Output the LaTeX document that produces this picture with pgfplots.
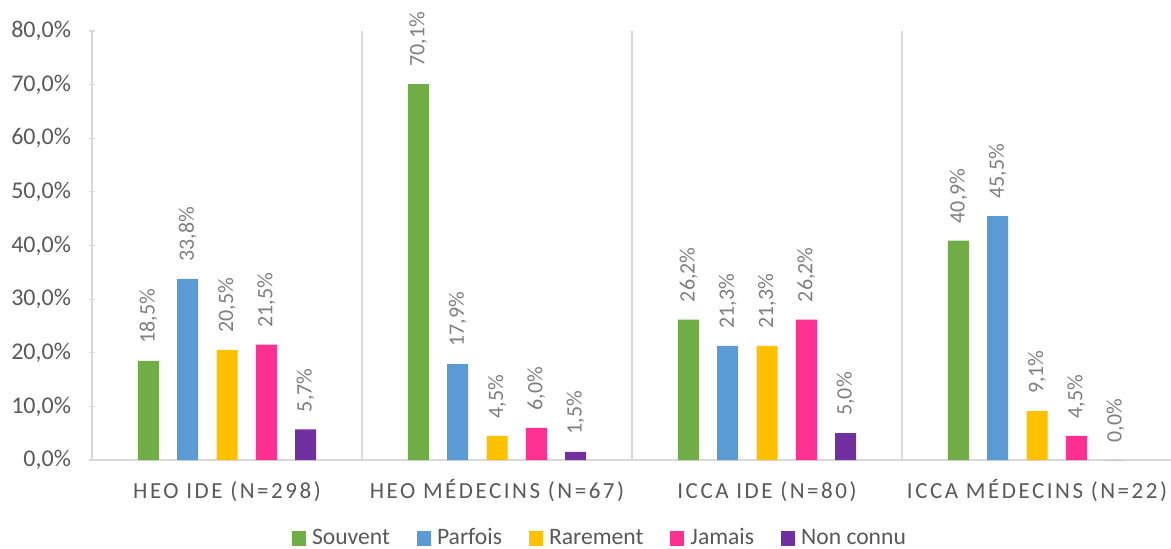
\documentclass[border=0pt]{standalone}
\usepackage{fontspec}
\setmainfont{Carlito}
\newfontfamily\spaced[LetterSpace=11]{Carlito}
\usepackage{pgfplots}
\pgfplotsset{compat=1.18}
\definecolor{cgreen}{HTML}{70AD47}
\definecolor{cblue}{HTML}{5B9BD5}
\definecolor{cyellow}{HTML}{FFC000}
\definecolor{cpink}{HTML}{FF3092}
\definecolor{cpurple}{HTML}{7030A0}
\definecolor{sepgray}{HTML}{D9D9D9}
\definecolor{tickgray}{HTML}{595959}
\definecolor{labgray}{HTML}{7F7F7F}
\begin{document}
\begin{tikzpicture}
\begin{axis}[
  at={(0,0)}, anchor=south west,
  scale only axis, width=540pt, height=214.5pt,
  ybar, bar width=10.5pt,
  xmin=-0.5, xmax=3.5, ymin=0, ymax=80,
  ytick={0,10,...,80},
  yticklabel={\pgfmathprintnumber[fixed,fixed zerofill,precision=1,use comma]{\tick}\%},
  /pgf/number format/assume math mode=true,
  yticklabel style={font=\fontsize{12}{14}\selectfont, color=tickgray, xshift=-5.5pt},
  ytick style={draw=sepgray, line width=0.6pt},
  tick align=outside, major tick length=3pt,
  xtick={0,1,2,3},
  xticklabels={HEO IDE (N=298), HEO MÉDECINS (N=67), ICCA IDE (N=80), ICCA MÉDECINS (N=22)},
  xticklabel style={font=\spaced\fontsize{11.5}{13}\selectfont, color=tickgray, anchor=center, text height=8pt, text depth=2pt, yshift=-14.5pt},
  xtick style={draw=none},
  extra x ticks={0.5,1.5,2.5},
  extra x tick labels={},
  extra x tick style={grid=major, major grid style={draw=sepgray, line width=0.6pt}, tick style={draw=none}},
  axis x line=bottom, axis y line=left,
  axis line style={-, draw=sepgray, line width=0.6pt},
  nodes near coords={\pgfmathprintnumber[fixed,fixed zerofill,precision=1,use comma]{\pgfplotspointmeta}\%},
  nodes near coords style={font=\fontsize{11}{13}\selectfont, color=labgray, rotate=90, anchor=west, inner xsep=8.5pt, inner ysep=0pt},
  every axis plot/.append style={draw=none},
  legend columns=5,
  legend style={draw=none, at={(0.4713,0)}, yshift=-39pt, anchor=center, font=\fontsize{11.8}{14}\selectfont, text=tickgray, /tikz/every even column/.append style={column sep=11.5pt}, inner sep=0pt},
  legend image code/.code={\fill[#1] (0pt,-3.75pt) rectangle (7pt,3.75pt); \path (8pt,0pt);},
  legend cell align=left,
]
\addplot[fill=cgreen, bar shift=-39.3pt] coordinates {(0,18.5) (1,70.1) (2,26.2) (3,40.9)};
\addplot[fill=cblue, bar shift=-19.65pt] coordinates {(0,33.8) (1,17.9) (2,21.3) (3,45.5)};
\addplot[fill=cyellow, bar shift=0pt] coordinates {(0,20.5) (1,4.5) (2,21.3) (3,9.1)};
\addplot[fill=cpink, bar shift=19.65pt] coordinates {(0,21.5) (1,6.0) (2,26.2) (3,4.5)};
\addplot[fill=cpurple, bar shift=39.3pt] coordinates {(0,5.7) (1,1.5) (2,5.0) (3,0.0)};
\legend{Souvent, Parfois, Rarement, Jamais, Non connu}
\end{axis}
\pgfresetboundingbox
\useasboundingbox (-46pt,-44pt) rectangle (539.5pt,230pt);
\end{tikzpicture}
\end{document}
